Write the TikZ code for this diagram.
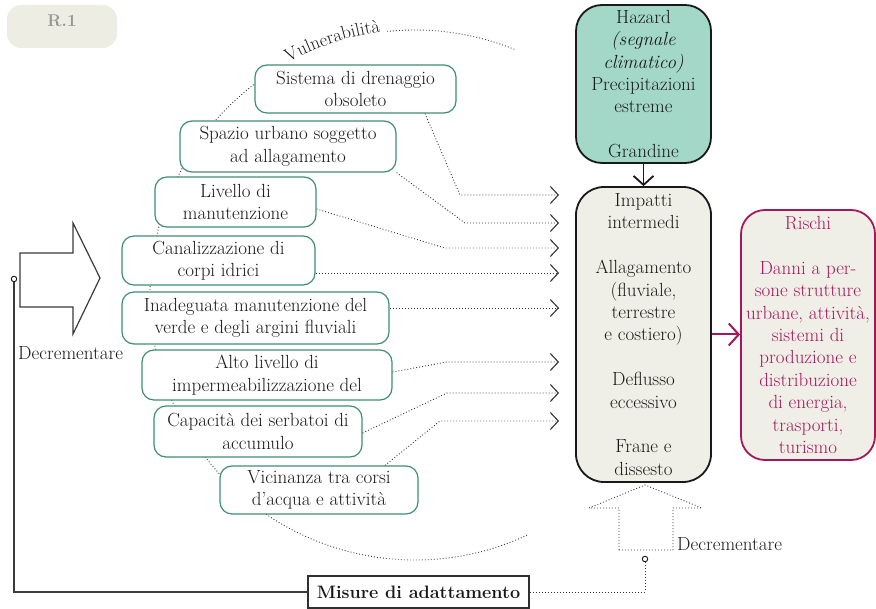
\documentclass[tikz,border=0pt]{standalone}
\usepackage{fontspec}
\usetikzlibrary{arrows.meta,decorations.text}
\definecolor{boxgreen}{RGB}{62,142,116}
\definecolor{mint}{RGB}{163,216,200}
\definecolor{beige}{RGB}{240,239,231}
\definecolor{magen}{RGB}{163,24,92}
\definecolor{badgebg}{RGB}{238,237,228}
\definecolor{badgetx}{RGB}{150,150,150}
\definecolor{ink}{RGB}{25,25,25}
\definecolor{dotc}{RGB}{55,55,55}
\begin{document}
\begin{tikzpicture}[x=1pt,y=1pt,
  every node/.style={font=\fontsize{19}{22.4}\selectfont, text=ink},
  vbox/.style={draw=boxgreen, line width=1.2pt, fill=white, rounded corners=12pt, align=center, inner sep=0pt},
  bigbox/.style={draw=ink, line width=1.8pt, rounded corners=26pt, align=center, inner sep=0pt},
  dotline/.style={draw=dotc, line width=0.9pt, dash pattern=on 0.9pt off 2.1pt},
  tipv/.style={-{Straight Barb[length=8pt,width=17pt,line width=1.1pt]}, shorten >=16pt}
]
\useasboundingbox (0,0) rectangle (876,-609);

% badge
\fill[badgebg, rounded corners=14pt] (7,-5) rectangle (117,-48);
\node[font=\fontsize{17}{18}\selectfont\bfseries, text=badgetx] (r1) at (62,-21) {R.1};

% vulnerability arc
\draw[dotline] (415,-295) ++(68:265) arc[start angle=68, end angle=96, radius=265];
\draw[dotline] (415,-295) ++(121:265) arc[start angle=121, end angle=295, radius=265];
\path[decorate, decoration={text along path, text={|\fontsize{18.5}{20}\selectfont|Vulnerabilit{à}}, text align=center, text color=ink}]
  (415,-295) ++(121:265) arc[start angle=121, end angle=95, radius=265];

% vulnerability boxes
\node[vbox, minimum width=201pt, minimum height=48pt] (s1) at (355.5,-89) {Sistema di drenaggio\\obsoleto};
\node[vbox, minimum width=216pt, minimum height=51pt] (s2) at (288,-146.5) {Spazio urbano soggetto\\ad allagamento};
\node[vbox, minimum width=161pt, minimum height=50pt] (s3) at (235.5,-202) {Livello di\\manutenzione};
\node[vbox, minimum width=193pt, minimum height=49pt] (s4) at (218.5,-260.5) {Canalizzazione di\\corpi idrici};
\node[vbox, minimum width=267pt, minimum height=52pt] (s5) at (255.5,-318) {Inadeguata manutenzione del\\verde e degli argini fluviali};
\node[vbox, minimum width=250pt, minimum height=50pt] (s6) at (267,-375) {Alto livello di\\impermeabilizzazione del};
\node[vbox, minimum width=208pt, minimum height=51pt] (s7) at (258,-431.5) {Capacità dei serbatoi di\\accumulo};
\node[vbox, minimum width=198pt, minimum height=48pt] (s8) at (319,-490) {Vicinanza tra corsi\\d’acqua e attività};

% main boxes
\node[bigbox, fill=mint, minimum width=135pt, minimum height=158pt] (haz) at (643.5,-84)
  {Hazard\\ \textit{(segnale}\\ \textit{climatico)}\\ Precipitazioni\\ estreme\\[22.4pt] Grandine};
\node[bigbox, fill=beige, minimum width=135pt, minimum height=295pt, rounded corners=28pt] (imp) at (643.5,-334.5)
  {Impatti\\ intermedi\\[22.4pt] Allagamento\\ (fluviale,\\ terrestre\\ e costiero)\\[22.4pt] Deflusso\\ eccessivo\\[22.4pt] Frane e\\ dissesto};
\node[bigbox, draw=magen, text=magen, fill=beige, minimum width=134pt, minimum height=250pt, rounded corners=24pt] (ris) at (808,-335)
  {Rischi\\[22.4pt] Danni a per-\\ sone strutture\\ urbane, attività,\\ sistemi di\\ produzione e\\ distribuzione\\ di energia,\\ trasporti,\\ turismo};

\node[draw=ink!90, line width=1.3pt, fill=white, minimum width=221pt, minimum height=32pt, inner sep=0pt,
  font=\fontsize{18}{22}\selectfont\bfseries] (mis) at (418.5,-592) {Misure di adattamento};

% arrows between main boxes
\draw[ink, line width=1.8pt, -{Straight Barb[length=9pt,width=20pt]}] (haz.south) -- (imp.north);
\draw[magen, line width=2pt, -{Straight Barb[length=10pt,width=22pt]}] (imp.east) -- (ris.west |- imp.east);

% dotted connectors into impacts
\draw[dotline, tipv] (s1.south -| 425,0) -- (460,-195) -- (imp.west |- 0,-195);
\draw[dotline, tipv] (s2.south east) -- (465,-223) -- (imp.west |- 0,-223);
\draw[dotline, tipv] (s3.east |- 0,-209) -- (445,-248) -- (imp.west |- 0,-248);
\draw[dotline, tipv] (s4.east |- 0,-273) -- (imp.west |- 0,-273);
\draw[dotline, tipv] (s5.east |- 0,-308) -- (imp.west |- 0,-308);
\draw[dotline, tipv] (s6.east |- 0,-372) -- (447,-362) -- (imp.west |- 0,-362);
\draw[dotline, tipv] (s7.east |- 0,-433) -- (447,-393) -- (imp.west |- 0,-393);
\draw[dotline, tipv] (s8.north -| 385,0) -- (440,-421) -- (imp.west |- 0,-421);

% left block arrow
\draw[ink!85, line width=1.2pt, line join=miter] (20,-253) -- (73,-253) -- (73,-223) -- (100,-278) -- (73,-334) -- (73,-307) -- (20,-307) -- cycle;
\node[anchor=base west, inner sep=0pt] (dec1) at (18,-360) {Decrementare};

% bottom up arrow (dotted)
\draw[dotline] (619,-550) -- (673,-550) -- (673,-508) -- (702,-508) -- (645,-485) -- (589,-508) -- (619,-508) -- cycle;
\node[anchor=base west, inner sep=0pt] (dec2) at (677,-550) {Decrementare};

% circles and feedback lines
\node[circle, draw=ink, line width=0.9pt, fill=white, inner sep=0pt, minimum size=5.5pt] (c1) at (14,-279) {};
\node[circle, draw=ink, line width=0.9pt, fill=white, inner sep=0pt, minimum size=5.5pt] (c2) at (645,-559) {};
\draw[ink!85, line width=1.3pt] (c1.south) |- (mis.west);
\draw[dotline] (mis.east) -| (c2.south);
\end{tikzpicture}
\end{document}
